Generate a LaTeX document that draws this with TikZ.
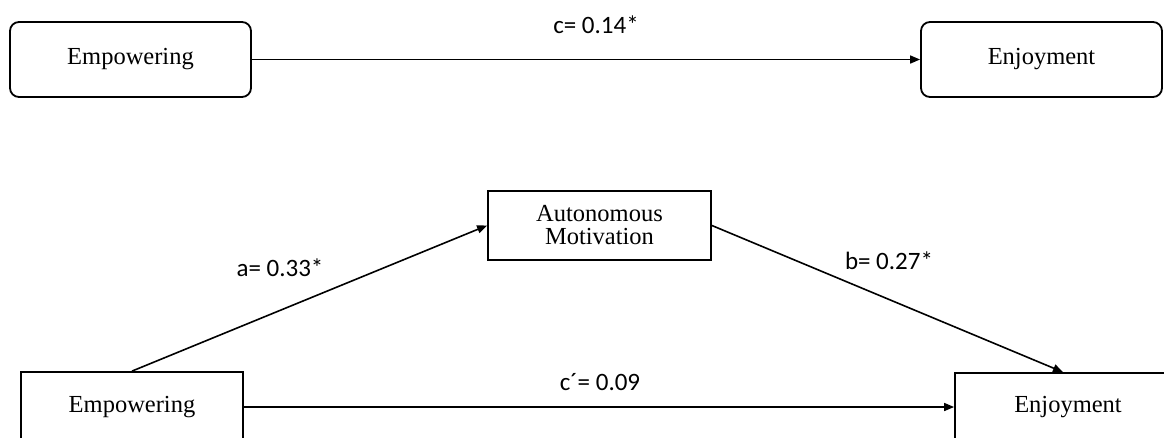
\documentclass[tikz,border=0pt]{standalone}
\usepackage{fontspec}
\setmainfont{Liberation Serif}
\newfontfamily\lblfont{Carlito}
\usetikzlibrary{arrows.meta}
\begin{document}
\begin{tikzpicture}[x=1pt,y=-1pt,
  box/.style={draw, line width=1.8pt, inner sep=0pt, font=\fontsize{24.5}{23}\selectfont, align=center},
  rbox/.style={box, rounded corners=9pt},
  conn/.style={line width=1.6pt, -{Triangle[length=10pt,width=8pt]}},
  lbl/.style={font=\lblfont\fontsize{25}{30}\selectfont, inner sep=0pt}]
\useasboundingbox (0,0) rectangle (1164,437);
\clip (0,0) rectangle (1164,437);
% top model
\node[rbox, minimum width=241pt, minimum height=75pt] (e1) at (130.5,59.5) {Empowering};
\node[rbox, minimum width=241pt, minimum height=75pt] (j1) at (1041.5,59.5) {Enjoyment};
\draw[conn] (e1.east) -- (j1.west);
\node[lbl] (lc) at (596,25) {c= 0.14*};
% bottom model
\node[box, minimum width=223pt, minimum height=69pt] (am) at (599.5,225.5) {Autonomous\\Motivation};
\node[box, minimum width=222pt, minimum height=70pt] (e2) at (132,407) {Empowering};
\node[box, minimum width=226pt, minimum height=68pt] (j2) at (1068,407) {Enjoyment};
\draw[conn] (e2.north) -- (am.west);
\draw[conn] (am.east) -- ([xshift=-5pt]j2.north);
\draw[conn] (e2.east) -- (e2.east -| j2.west);
\node[lbl] (la) at (280,268) {a= 0.33*};
\node[lbl] (lb) at (889,261) {b= 0.27*};
\node[lbl] (lcp) at (600,382) {c´= 0.09};
\end{tikzpicture}
\end{document}
